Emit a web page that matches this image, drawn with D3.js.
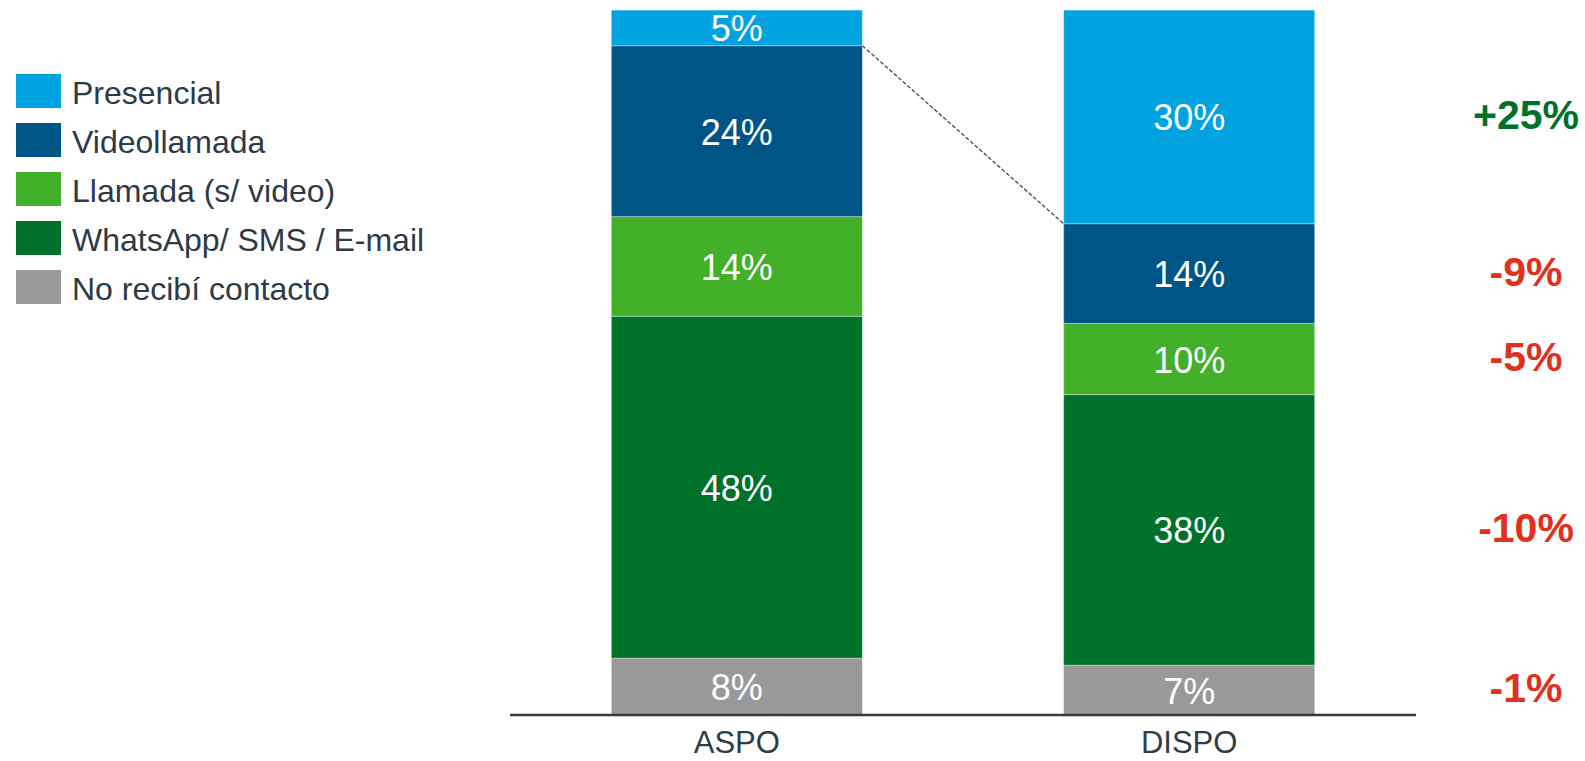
<!DOCTYPE html>
<html>
<head>
<meta charset="utf-8">
<script src="https://cdn.jsdelivr.net/npm/d3@7"></script>
<style>
  body { margin: 0; background: #fff; }
  svg { display: block; font-family: "Liberation Sans", Arial, sans-serif; }
</style>
</head>
<body>
<svg width="1585" height="761"></svg>
<script>
// data
var periods  = ['ASPO', 'DISPO'];
var channels = ['Presencial', 'Videollamada', 'Llamada (s/ video)', 'WhatsApp/ SMS / E-mail', 'No recibí contacto'];
var colors   = ['#00A3E0', '#005587', '#43B02A', '#00712A', '#999999'];
var aspo     = [5, 24, 14, 48, 8];
var dispo    = [30, 14, 10, 38, 7];
var diffs    = ['+25%', '-9%', '-5%', '-10%', '-1%'];

var svg = d3.select('svg');

var x = d3.scaleBand()
          .domain(periods)
          .range([510, 1416])
          .paddingInner(0.445)
          .paddingOuter(0.224);

var y = d3.scaleLinear()
          .domain([0, 100])
          .range([715, 3]);

// stack - first channel on top, last at bottom
var rows = periods.map(function(p, i) {
  var vals = i == 0 ? aspo : dispo;
  var row = { period: p };
  channels.forEach(function(c, j) { row[c] = vals[j]; });
  return row;
});
var stack = d3.stack().keys(channels.slice().reverse());
var series = stack(rows);

var color = d3.scaleOrdinal().domain(channels).range(colors);

var layers = svg.selectAll('g.layer')
                .data(series)
                .enter()
                .append('g')
                  .attr('class', 'layer')
                  .style('fill', function(d) { return color(d.key); });

layers.selectAll('rect')
      .data(function(d) { return d; })
      .enter()
      .append('rect')
        .attr('x', function(d) { return x(d.data.period); })
        .attr('width', x.bandwidth())
        .attr('y', function(d) { return y(d[1]); })
        .attr('height', function(d) { return y(d[0]) - y(d[1]); })
        .style('stroke', '#ffffff')
        .style('stroke-opacity', 0.35)
        .style('stroke-width', 1);

layers.selectAll('text')
      .data(function(d) { return d; })
      .enter()
      .append('text')
        .attr('x', function(d) { return x(d.data.period) + x.bandwidth() / 2; })
        .attr('y', function(d) { return (y(d[0]) + y(d[1])) / 2 + 1; })
        .attr('text-anchor', 'middle')
        .attr('dominant-baseline', 'central')
        .style('fill', '#ffffff')
        .style('font-size', '36px')
        .text(function(d) { return (d[1] - d[0]) + '%'; });

// dashed connector at top of Videollamada
var video = series.filter(function(s) { return s.key == 'Videollamada'; })[0];
svg.append('line')
   .attr('x1', x('ASPO') + x.bandwidth())
   .attr('y1', y(video[0][1]))
   .attr('x2', x('DISPO'))
   .attr('y2', y(video[1][1]))
   .style('stroke', '#2F3D48')
   .style('stroke-width', 1.2)
   .style('stroke-dasharray', '4,2');

// axis
var axis = svg.append('g')
              .attr('transform', 'translate(0,' + y(0) + ')')
              .call(d3.axisBottom(x).tickSize(0).tickPadding(16).tickSizeOuter(0));
axis.select('.domain')
    .attr('d', 'M510,0H1416')
    .style('stroke', '#2F3D48')
    .style('stroke-width', 2.5);
axis.selectAll('text')
    .style('font-size', '31px')
    .style('font-family', '"Liberation Sans", Arial, sans-serif')
    .style('fill', '#2F3D48');

// change labels, centred on DISPO segments
var dispoSegs = series.map(function(s) { return { key: s.key, d: s[1] }; });
svg.selectAll('text.diff')
   .data(dispoSegs)
   .enter()
   .append('text')
     .attr('class', 'diff')
     .attr('x', 1526)
     .attr('y', function(s) { return (y(s.d[0]) + y(s.d[1])) / 2 - 2; })
     .attr('text-anchor', 'middle')
     .attr('dominant-baseline', 'central')
     .style('font-size', '41px')
     .style('font-weight', 'bold')
     .style('fill', function(s) { return diffs[channels.indexOf(s.key)][0] == '+' ? '#00712A' : '#E0301E'; })
     .text(function(s) { return diffs[channels.indexOf(s.key)]; });

// legend
var legend = svg.selectAll('g.legend')
                .data(channels)
                .enter()
                .append('g')
                  .attr('class', 'legend')
                  .attr('transform', function(d, i) { return 'translate(16,' + (74 + i * 49) + ')'; });
legend.append('rect')
      .attr('width', 45)
      .attr('height', 34)
      .style('fill', function(d) { return color(d); });
legend.append('text')
      .attr('x', 56)
      .attr('y', 19)
      .attr('dominant-baseline', 'central')
      .style('font-size', '32px')
      .style('fill', '#2E3A45')
      .text(function(d) { return d; });
</script>
</body>
</html>
